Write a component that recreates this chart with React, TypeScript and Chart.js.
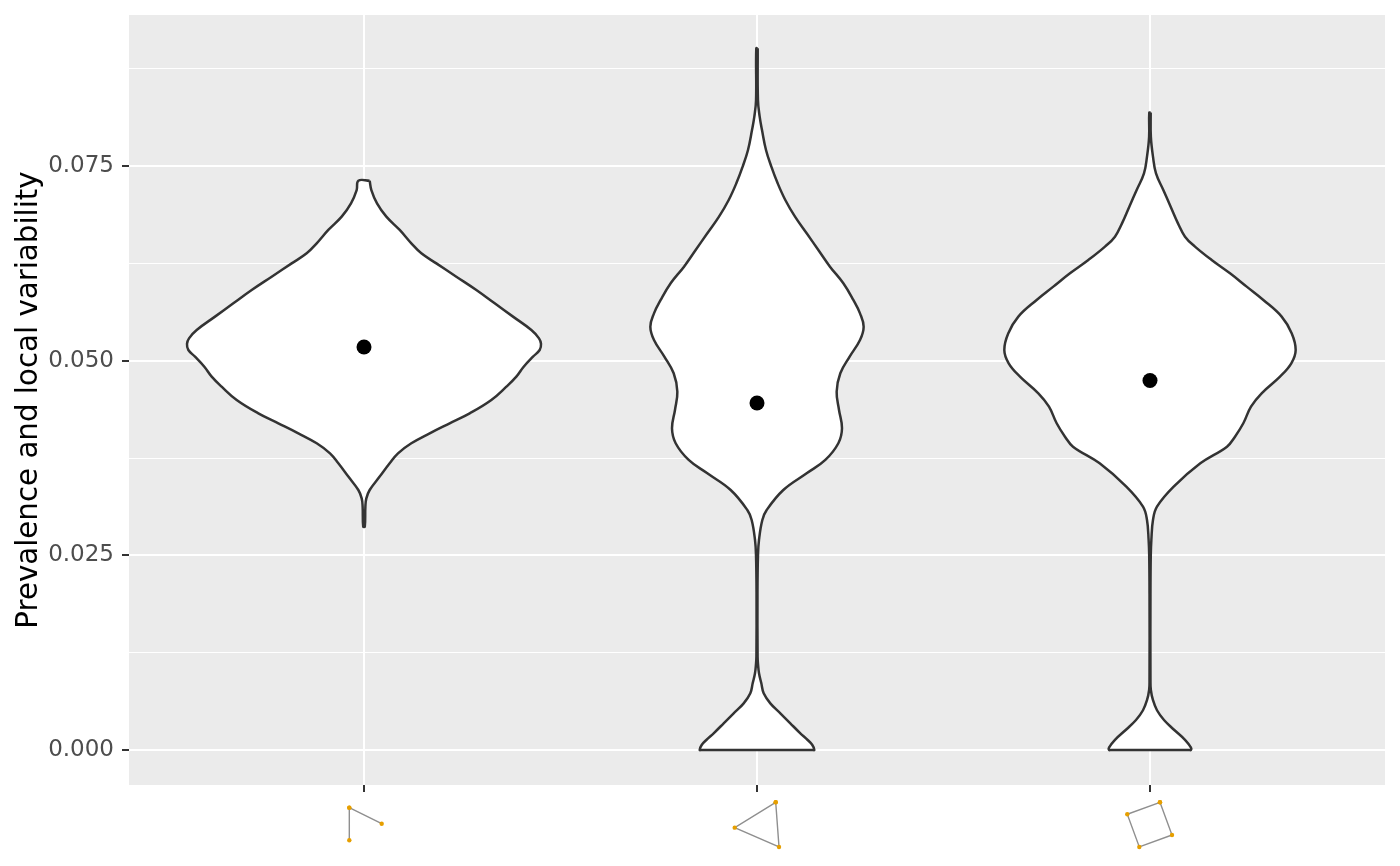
import React, { useEffect, useRef } from "react";
import { Chart, registerables } from "chart.js";

Chart.register(...registerables);

const categories = [1, 2, 3];
const meanValues = [0.05176, 0.04457, 0.04746];
const majorTicks = [0, 0.025, 0.05, 0.075];
const gridTicks = [0, 0.0125, 0.025, 0.0375, 0.05, 0.0625, 0.075, 0.0875];
const tickLabels = ["0.000", "0.025", "0.050", "0.075"];

const violin1Y = [0.07312, 0.07192, 0.07021, 0.0685, 0.06679, 0.06507, 0.06379, 0.0625, 0.06079, 0.05908, 0.05737, 0.05566, 0.05394, 0.05287, 0.05215, 0.05137, 0.05052, 0.04923, 0.04795, 0.04666, 0.04495, 0.04324, 0.04196, 0.04067, 0.03939, 0.0381, 0.03682, 0.03511, 0.03339, 0.03232, 0.03125, 0.02868];
const violin1W = [0.0144, 0.0187, 0.0331, 0.0568, 0.0908, 0.1204, 0.1459, 0.1841, 0.2349, 0.2858, 0.3325, 0.3791, 0.4258, 0.4453, 0.4504, 0.447, 0.43, 0.4063, 0.3876, 0.3622, 0.324, 0.2689, 0.218, 0.1671, 0.1204, 0.0865, 0.0653, 0.0399, 0.0144, 0.0059, 0.0035, 0.002];

const violin2Y = [0.09012, 0.08348, 0.08134, 0.07963, 0.07706, 0.07492, 0.07278, 0.07064, 0.0685, 0.06636, 0.06422, 0.06208, 0.05994, 0.0578, 0.05608, 0.05437, 0.05266, 0.05052, 0.04838, 0.04602, 0.04367, 0.04131, 0.03939, 0.03725, 0.03553, 0.03339, 0.03082, 0.02954, 0.027, 0.025, 0.02, 0.012, 0.01113, 0.00985, 0.00856, 0.00728, 0.00599, 0.00471, 0.00342, 0.00214, 0.00128, 0.00064, 0, 0, 0];
const violin2W = [0.0018, 0.0024, 0.0068, 0.0127, 0.0229, 0.0365, 0.0526, 0.0720, 0.0967, 0.1264, 0.1561, 0.1857, 0.2197, 0.2451, 0.2621, 0.2714, 0.2621, 0.2358, 0.212, 0.2027, 0.2087, 0.2163, 0.207, 0.1739, 0.1264, 0.067, 0.0246, 0.0136, 0.0051, 0.0025, 0.0012, 0.0015, 0.0024, 0.0051, 0.011, 0.017, 0.0339, 0.0594, 0.0848, 0.1103, 0.1289, 0.1408, 0.1459, 0.141, 0.07];

const violin3Y = [0.08186, 0.07877, 0.07621, 0.07406, 0.07192, 0.06978, 0.06764, 0.06593, 0.06465, 0.06293, 0.06122, 0.05951, 0.0578, 0.05566, 0.05352, 0.05137, 0.04966, 0.04795, 0.04581, 0.0441, 0.04196, 0.04024, 0.03896, 0.03682, 0.03382, 0.03125, 0.02954, 0.027, 0.025, 0.02, 0.009, 0.0077, 0.0064, 0.0051, 0.00385, 0.0026, 0.0013, 0.0003, 0, 0, 0];
const violin3W = [0.0018, 0.0022, 0.0076, 0.0153, 0.0339, 0.0526, 0.0712, 0.0891, 0.1145, 0.1569, 0.2036, 0.246, 0.2884, 0.335, 0.3605, 0.3707, 0.3596, 0.3308, 0.2841, 0.257, 0.2375, 0.2163, 0.1959, 0.1281, 0.0602, 0.0178, 0.0076, 0.0035, 0.002, 0.0012, 0.0012, 0.0022, 0.0076, 0.0178, 0.0356, 0.0611, 0.0891, 0.1043, 0.1043, 0.099, 0.05];

const motif1X = [0.9626, 1.045, 0.9626, 0.9626];
const motif1Y = [-0.00741, -0.00947, -0.00741, -0.0116];
const motif2X = [2.0476, 1.9433, 2.056, 2.0476];
const motif2Y = [-0.00672, -0.00998, -0.01246, -0.00672];
const motif3X = [3.0254, 2.9422, 2.9728, 3.056, 3.0254];
const motif3Y = [-0.00672, -0.00826, -0.01246, -0.01092, -0.00672];

const violinData = (center: number, ys: number[], ws: number[]) => {
  const right = ys.map((y, i) => ({ x: center + ws[i], y }));
  const left = ys.map((y, i) => ({ x: center - ws[i], y })).reverse();
  return [...right, ...left, right[0]];
};

const motifData = (xs: number[], ys: number[]) => xs.map((x, i) => ({ x, y: ys[i] }));

const violinDataset = (data: { x: number; y: number }[]) => ({
  type: "scatter" as const,
  data,
  showLine: true,
  borderColor: "#333333",
  borderWidth: 2.5,
  backgroundColor: "#FFFFFF",
  fill: "shape",
  pointRadius: 0,
  tension: 0.4,
  borderJoinStyle: "round" as const,
});

const motifDataset = (data: { x: number; y: number }[]) => ({
  type: "scatter" as const,
  label: "motif",
  data,
  showLine: true,
  clip: false,
  borderColor: "#8F8F8F",
  borderWidth: 1.4,
  backgroundColor: "#E69F00",
  pointBackgroundColor: "#E69F00",
  pointBorderWidth: 0,
  pointRadius: 2.2,
  tension: 0,
});

const panelBackground = {
  id: "panelBackground",
  beforeDraw(chart: Chart) {
    const { ctx, chartArea } = chart;
    ctx.save();
    ctx.fillStyle = "#EBEBEB";
    ctx.fillRect(chartArea.left, chartArea.top, chartArea.width, chartArea.height);
    ctx.restore();
  },
  // The motif nodes sit below the panel, where point elements skip themselves: redraw them with a wider area.
  afterDraw(chart: Chart) {
    const whole = { left: 0, top: 0, right: chart.width, bottom: chart.height };
    chart.data.datasets.forEach((dataset: any, i: number) => {
      if (dataset.label !== "motif") return;
      chart.getDatasetMeta(i).data.forEach((point: any) => point.draw(chart.ctx, whole));
    });
  },
};

export default function App() {
  const ref = useRef<HTMLCanvasElement>(null);
  useEffect(() => {
    if (!ref.current) return;
    const chart = new Chart(ref.current, {
      type: "scatter",
      plugins: [panelBackground],
      data: {
        datasets: [
          {
            type: "scatter",
            data: categories.map((x, i) => ({ x, y: meanValues[i] })),
            pointRadius: 7.5,
            pointBorderWidth: 0,
            backgroundColor: "#000000",
            pointBackgroundColor: "#000000",
          },
          violinDataset(violinData(categories[0], violin1Y, violin1W)),
          violinDataset(violinData(categories[1], violin2Y, violin2W)),
          violinDataset(violinData(categories[2], violin3Y, violin3W)),
          motifDataset(motifData(motif1X, motif1Y)),
          motifDataset(motifData(motif2X, motif2Y)),
          motifDataset(motifData(motif3X, motif3Y)),
        ] as any,
      },
      options: {
        animation: false,
        responsive: false,
        devicePixelRatio: 1,
        layout: { padding: { top: 15, right: 15, left: 0, bottom: 0 } },
        plugins: { legend: { display: false }, tooltip: { enabled: false } },
        scales: {
          x: {
            type: "linear",
            min: 0.402,
            max: 3.598,
            afterBuildTicks: (scale: any) => {
              scale.ticks = categories.map((value) => ({ value }));
            },
            afterFit: (scale: any) => {
              scale.height = 81;
            },
            border: { display: false },
            grid: {
              color: "#FFFFFF",
              lineWidth: 2,
              tickColor: "#333333",
              tickLength: 7,
              tickWidth: 2,
            },
            ticks: {
              callback: () => "",
              maxRotation: 0,
              autoSkip: false,
              padding: 0,
            },
          },
          y: {
            type: "linear",
            min: -0.0045,
            max: 0.0944,
            afterBuildTicks: (scale: any) => {
              scale.ticks = gridTicks.map((value) => ({ value }));
            },
            afterFit: (scale: any) => {
              scale.width = 129;
              scale.paddingTop = 0;
              scale.paddingBottom = 0;
            },
            border: { display: false },
            grid: {
              color: "#FFFFFF",
              lineWidth: (ctx: any) => (majorTicks.includes(ctx.tick?.value) ? 2 : 1),
              tickColor: (ctx: any) => (majorTicks.includes(ctx.tick?.value) ? "#333333" : "rgba(0,0,0,0)"),
              tickLength: 7,
              tickWidth: 2,
            },
            ticks: {
              autoSkip: false,
              padding: 8,
              color: "#4D4D4D",
              font: { family: "DejaVu Sans", size: 23 },
              callback: (value: any) => {
                const i = majorTicks.indexOf(value);
                return i >= 0 ? tickLabels[i] : "";
              },
            },
            title: {
              display: true,
              text: "Prevalence and local variability",
              color: "#000000",
              font: { family: "DejaVu Sans", size: 29.3 },
              padding: { top: 12, bottom: 0 },
            },
          },
        },
      },
    });
    return () => chart.destroy();
  }, []);
  return (
    <canvas
      ref={ref}
      width={1400}
      height={866}
      style={{ position: "fixed", left: 0, top: 0, width: 1400, height: 866, display: "block" }}
    />
  );
}
